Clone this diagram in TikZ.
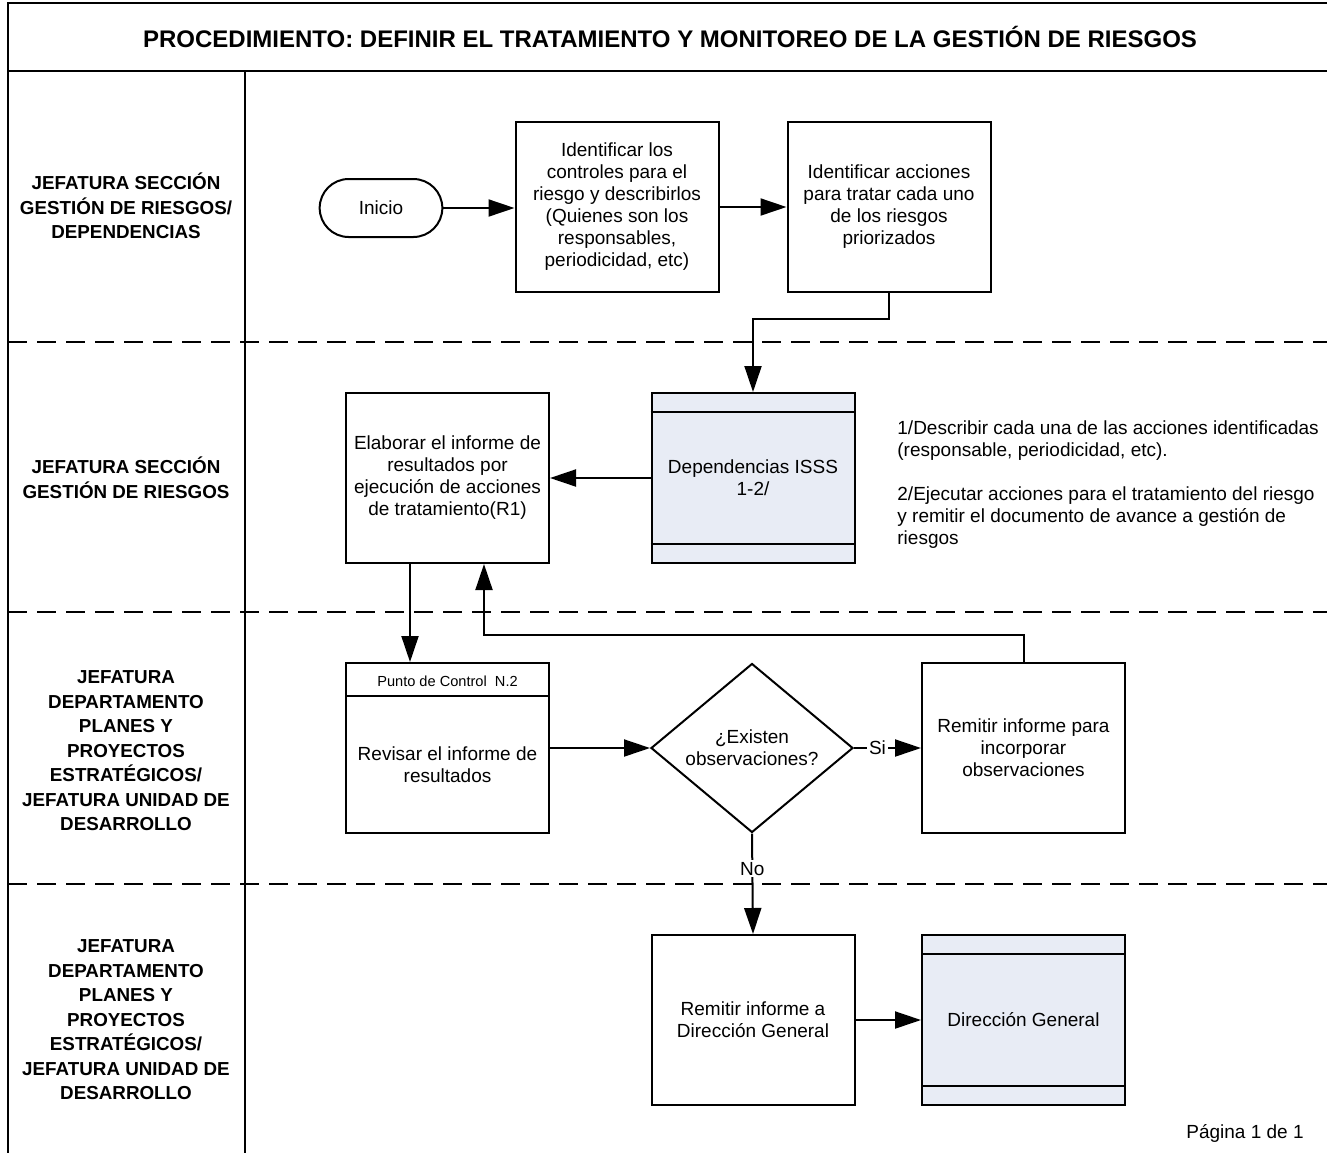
\documentclass[tikz,border=0pt]{standalone}
\usepackage{fontspec}
\setmainfont{Liberation Sans}
\usetikzlibrary{arrows.meta,shapes.geometric,shapes.misc,calc}
\definecolor{subfill}{RGB}{232,236,245}
\begin{document}
\begin{tikzpicture}[x=0.5pt,y=-0.5pt,
  bodytext/.style={font=\fontsize{9.5}{11}\selectfont, align=center},
  proc/.style={draw, line width=1pt, minimum width=101.5pt, minimum height=85pt,
    inner sep=2pt, bodytext},
  startstop/.style={draw, line width=1pt, rounded rectangle, minimum width=68pt,
    minimum height=29pt, bodytext},
  decision/.style={draw, line width=1pt, diamond, aspect=1.2, inner sep=0pt,
    minimum width=101pt, minimum height=84.5pt, bodytext},
  lanetext/.style={font=\bfseries\fontsize{9.4}{12.25}\selectfont, align=center},
  frameline/.style={line width=1pt},
  lanesep/.style={line width=1pt, dash pattern=on 9.5pt off 5pt},
  arr/.style={line width=1pt, -{Triangle[length=13pt,width=8.5pt]}},
  flow/.style={line width=1pt}
]
\clip (0,0) rectangle (1327,1152);

% outer frame, title band and lane column
\draw[frameline] (8,3) rectangle (1345,1170);
\draw[frameline] (8,71) -- (1345,71);
\draw[frameline] (245,71) -- (245,1170);
\draw[lanesep] (8,342) -- (1345,342);
\draw[lanesep] (8,612) -- (1345,612);
\draw[lanesep] (8,884) -- (1345,884);

\node[font=\bfseries\fontsize{12}{14}\selectfont] (title) at (670,37)
  {PROCEDIMIENTO: DEFINIR EL TRATAMIENTO Y MONITOREO DE LA GESTIÓN DE RIESGOS};

% lane headings
\node[lanetext] (lane1) at (126,206)
  {JEFATURA SECCIÓN\\GESTIÓN DE RIESGOS/\\DEPENDENCIAS};
\node[lanetext] (lane2) at (126,478)
  {JEFATURA SECCIÓN\\GESTIÓN DE RIESGOS};
\node[lanetext] (lane3) at (126,751)
  {JEFATURA\\DEPARTAMENTO\\PLANES Y\\PROYECTOS\\ESTRATÉGICOS/\\JEFATURA UNIDAD DE\\DESARROLLO};
\node[lanetext] (lane4) at (126,1020)
  {JEFATURA\\DEPARTAMENTO\\PLANES Y\\PROYECTOS\\ESTRATÉGICOS/\\JEFATURA UNIDAD DE\\DESARROLLO};

% lane 1
\node[startstop] (ini) at (381,208) {Inicio};
\node[proc] (b1) at (617,207)
  {Identificar los\\controles para el\\riesgo y describirlos\\(Quienes son los\\responsables,\\periodicidad, etc)};
\node[proc] (b2) at (889,207)
  {Identificar acciones\\para tratar cada uno\\de los riesgos\\priorizados};

% lane 2
\node[proc, fill=subfill] (dep) at (753,478) {Dependencias ISSS\\1-2/};
\draw[line width=1pt] ([yshift=-10pt]dep.north west) -- ([yshift=-10pt]dep.north east);
\draw[line width=1pt] ([yshift=10pt]dep.south west) -- ([yshift=10pt]dep.south east);
\node[proc] (b3) at (447.5,478)
  {Elaborar el informe de\\resultados por\\ejecución de acciones\\de tratamiento(R1)};
\node[bodytext, align=left, anchor=north west, inner sep=0pt] (note) at (897,420)
  {1/Describir cada una de las acciones identificadas\\
   (responsable, periodicidad, etc).\\[11pt]
   2/Ejecutar acciones para el tratamiento del riesgo\\
   y remitir el documento de avance a gestión de\\
   riesgos};

% lane 3
\node[proc] (ctl) at (447.5,748) {};
\draw[line width=1pt] ([yshift=-17pt]ctl.north west) -- ([yshift=-17pt]ctl.north east);
\node[font=\fontsize{7.3}{8}\selectfont] (ctlhead) at (447.5,681) {Punto de Control\ \ N.2};
\node[bodytext] (ctltext) at (447.5,765) {Revisar el informe de\\resultados};
\node[decision] (dia) at (752,748) {¿Existen\\observaciones?};
\node[proc] (obs) at (1023.5,748) {Remitir informe para\\incorporar\\observaciones};

% lane 4
\node[proc] (r2) at (753,1020) {Remitir informe a\\Dirección General};
\node[proc, fill=subfill] (dg) at (1023.5,1020) {Dirección General};
\draw[line width=1pt] ([yshift=-10pt]dg.north west) -- ([yshift=-10pt]dg.north east);
\draw[line width=1pt] ([yshift=10pt]dg.south west) -- ([yshift=10pt]dg.south east);

\node[bodytext] (page) at (1245,1133) {Página 1 de 1};

% connectors
\draw[arr] (ini.east) -- (ini.east -| b1.west);
\draw[arr] (b1.east) -- (b2.west);
\draw[arr] (b2.south) -- ++(0,26) -| (dep.north);
\draw[arr] (dep.west) -- (b3.east);
\draw[arr] ([xshift=-18.75pt]b3.south) -- ([xshift=-18.75pt]ctl.north);
\draw[arr] (ctl.east) -- (dia.west);
\draw[arr] (dia.east) -- node[pos=0.35, fill=white, inner sep=1pt, bodytext] (si) {Si} (obs.west);
\draw[arr] (obs.north) -- ++(0,-27) -| ([xshift=18.25pt]b3.south);
\draw[arr] (dia.south) -- node[pos=0.35, fill=white, inner sep=1pt, bodytext] (no) {No} (r2.north);
\draw[arr] (r2.east) -- (dg.west);
\end{tikzpicture}
\end{document}
